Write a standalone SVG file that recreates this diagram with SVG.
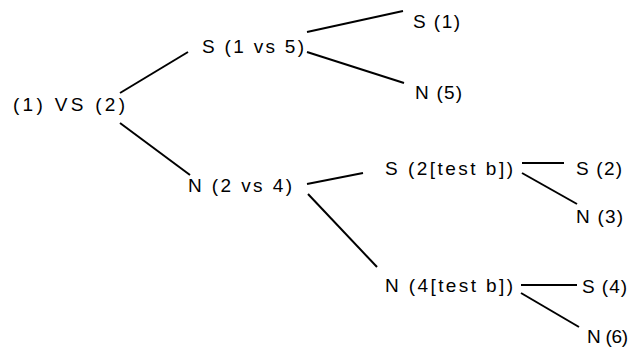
<svg xmlns="http://www.w3.org/2000/svg" width="637" height="351" viewBox="0 0 637 351">
<style>
text{font-family:"Liberation Sans",Arial,sans-serif;font-size:19px;fill:#000;}
.c line{stroke:#000;stroke-width:2;stroke-linecap:butt;}
</style>
<rect width="637" height="351" fill="#fff"/>
<g class="c" id="connectors">
<line x1="120" y1="93" x2="188" y2="52"/>
<line x1="120" y1="123" x2="190" y2="175"/>
<line x1="307" y1="32" x2="403" y2="11"/>
<line x1="307" y1="52" x2="404" y2="83"/>
<line x1="307" y1="184" x2="363" y2="173"/>
<line x1="308" y1="194" x2="377" y2="267"/>
<line x1="522" y1="163" x2="564" y2="163"/>
<line x1="522" y1="173" x2="577" y2="204"/>
<line x1="521" y1="285" x2="577" y2="285"/>
<line x1="521" y1="293" x2="579" y2="327"/>
</g>
<g id="root"><text x="13" y="111" textLength="112" lengthAdjust="spacing">(1) VS (2)</text></g>
<g id="s1vs5"><text x="202" y="53" textLength="102" lengthAdjust="spacing">S (1 vs 5)</text></g>
<g id="s1"><text x="413" y="28" textLength="47" lengthAdjust="spacing">S (1)</text></g>
<g id="n5"><text x="415" y="99" textLength="47" lengthAdjust="spacing">N (5)</text></g>
<g id="n2vs4"><text x="188" y="192" textLength="104" lengthAdjust="spacing">N (2 vs 4)</text></g>
<g id="s2test"><text x="385" y="175" textLength="128" lengthAdjust="spacing">S (2[test b])</text></g>
<g id="s2"><text x="576" y="175" textLength="46" lengthAdjust="spacing">S (2)</text></g>
<g id="n3"><text x="576" y="223" textLength="47" lengthAdjust="spacing">N (3)</text></g>
<g id="n4test"><text x="385" y="292" textLength="128" lengthAdjust="spacing">N (4[test b])</text></g>
<g id="s4"><text x="582" y="293" textLength="45" lengthAdjust="spacing">S (4)</text></g>
<g id="n6"><text x="587" y="343" textLength="41" lengthAdjust="spacing">N (6)</text></g>
</svg>
